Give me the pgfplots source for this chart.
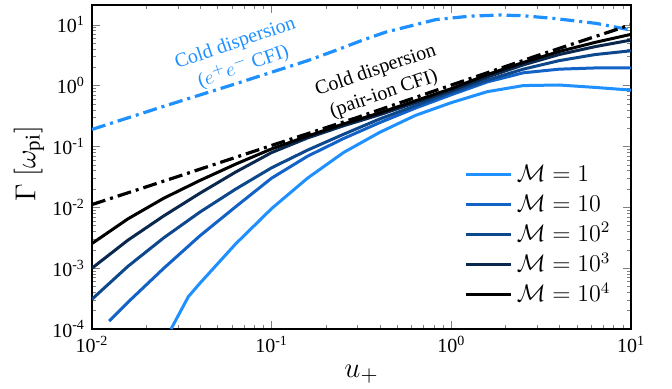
\documentclass[border=0pt]{standalone}
\usepackage{fontspec}
\setmainfont{Liberation Serif}
\usepackage{pgfplots}
\pgfplotsset{compat=1.18}
\definecolor{cA}{RGB}{30,144,255}
\definecolor{cB}{RGB}{18,98,200}
\definecolor{cC}{RGB}{14,72,140}
\definecolor{cD}{RGB}{10,40,78}
\definecolor{cE}{RGB}{0,0,0}
\begin{document}
\begin{tikzpicture}
\begin{axis}[name=ax, xmode=log, ymode=log, scale only axis,
  width=269.5pt, height=162pt,
  xmin=0.01, xmax=10, ymin=1e-4, ymax=21.1,
  xtick={0.01,0.1,1,10},
  xticklabels={10\textsuperscript{-2},10\textsuperscript{-1},10\textsuperscript{0},10\textsuperscript{1}},
  ytick={1e-4,1e-3,1e-2,1e-1,1,10},
  yticklabels={10\textsuperscript{-4},10\textsuperscript{-3},10\textsuperscript{-2},10\textsuperscript{-1},10\textsuperscript{0},10\textsuperscript{1}},
  tick align=inside, major tick length=4pt, minor tick length=2pt,
  ticklabel style={font=\fontsize{10}{10}\selectfont},
  xlabel={$u_+$}, ylabel={$\Gamma\ [\omega_{\mathrm{pi}}]$},
  label style={font=\fontsize{15}{15}\selectfont},
  xlabel style={at={(rel axis cs:0.5,-0.14)}, anchor=center},
  ylabel style={at={(rel axis cs:-0.117,0.51)}, anchor=center},
  axis line style={line width=0.8pt},
  legend style={draw=none, fill=none, at={(0.981,0.046)}, anchor=south east,
    font=\fontsize{11.5}{11.5}\selectfont, row sep=0pt, legend cell align=left,
    nodes={inner sep=2pt, text height=9pt, text depth=2pt}},
  legend image code/.code={\draw[#1] (0pt,0pt) -- (22.5pt,0pt);},
]
\addplot[cA, line width=1.5pt] coordinates {
(0.02754,0.0001) (0.03436,0.000339) (0.03981,0.000562) (0.06310,0.002512) (0.1,0.009550)
(0.1585,0.03020) (0.2512,0.07943) (0.3981,0.1698) (0.6310,0.3236) (1,0.5248)
(1.585,0.7943) (2.512,1.0) (3.981,1.023) (6.310,0.9333) (10,0.8433)};
\addlegendentry{$\mathcal{M}=1$}
\addplot[cB, line width=1.5pt] coordinates {
(0.01247,0.0001355) (0.01585,0.0002754) (0.02512,0.001) (0.03981,0.003388) (0.06310,0.01023)
(0.1,0.03020) (0.1585,0.06918) (0.2512,0.1349) (0.3981,0.2455) (0.6310,0.4266)
(1,0.7079) (1.585,1.148) (2.512,1.622) (3.981,1.862) (6.310,1.950) (10,1.963)};
\addlegendentry{$\mathcal{M}=10$}
\addplot[cC, line width=1.5pt] coordinates {
(0.01,0.000309) (0.01585,0.001072) (0.02512,0.003162) (0.03981,0.008318) (0.06310,0.01995)
(0.1,0.04467) (0.1585,0.08710) (0.2512,0.1585) (0.3981,0.2818) (0.6310,0.4677)
(1,0.7762) (1.585,1.230) (2.512,1.862) (3.981,2.570) (6.310,3.236) (10,3.733)};
\addlegendentry{$\mathcal{M}=10^2$}
\addplot[cD, line width=1.5pt] coordinates {
(0.01,0.001) (0.01585,0.002884) (0.02512,0.007244) (0.03981,0.01698) (0.06310,0.03802)
(0.1,0.07943) (0.1585,0.1380) (0.2512,0.2188) (0.3981,0.3311) (0.6310,0.5248)
(1,0.8318) (1.585,1.380) (2.512,2.188) (3.981,3.236) (6.310,4.365) (10,5.598)};
\addlegendentry{$\mathcal{M}=10^3$}
\addplot[cE, line width=1.5pt] coordinates {
(0.01,0.002541) (0.01585,0.006457) (0.02512,0.01413) (0.03981,0.02754) (0.06310,0.05129)
(0.1,0.09120) (0.1585,0.1479) (0.2512,0.2344) (0.3981,0.3548) (0.6310,0.5623)
(1,0.8913) (1.585,1.514) (2.512,2.399) (3.981,3.631) (6.310,5.129) (10,6.950)};
\addlegendentry{$\mathcal{M}=10^4$}
\addplot[cA, line width=1.6pt, dash pattern=on 7pt off 2.5pt on 1.5pt off 2.5pt, forget plot] coordinates {
(0.01,0.1905) (0.02512,0.4571) (0.06310,1.072) (0.1,1.660) (0.1585,2.570)
(0.2280,3.802) (0.3162,5.495) (0.4325,7.586) (0.6310,10.0) (0.8204,12.16)
(1.259,13.80) (1.849,14.45) (2.512,14.06) (3.664,12.74) (5.012,11.48) (6.383,10.54) (10,8.185)};
\addplot[black, line width=1.6pt, dash pattern=on 7pt off 2.5pt on 1.5pt off 2.5pt, forget plot] coordinates {
(0.01,0.0111) (0.03,0.032) (0.1,0.104) (0.3,0.30) (1,1.02) (3,3.1) (10,10.0)};
\node[cA, rotate=19, align=center, font=\fontsize{10}{12.5}\selectfont] at (axis cs:0.0662,3.11) {Cold dispersion\\($e^+e^-$ CFI)};
\node[black, rotate=19, align=center, font=\fontsize{10}{12.5}\selectfont] at (axis cs:0.40,1.12) {Cold dispersion\\(pair-ion CFI)};
\end{axis}
\pgfresetboundingbox
\path ([xshift=-46pt,yshift=-29.5pt]ax.south west) rectangle ([xshift=20.5pt,yshift=2.5pt]ax.north east);
\end{tikzpicture}
\end{document}
